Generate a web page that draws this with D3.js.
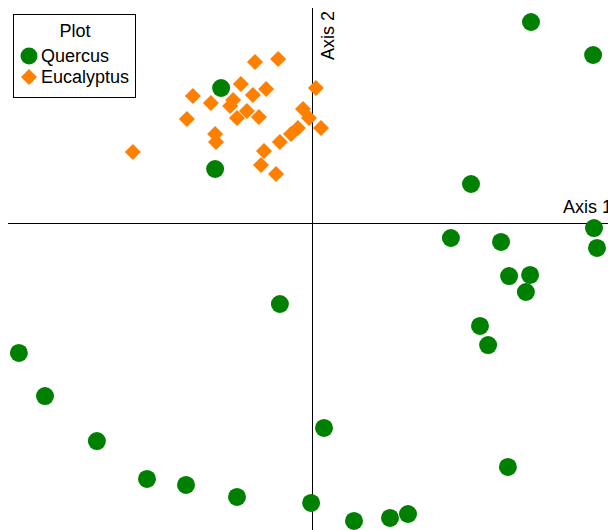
<!DOCTYPE html>
<html><head><meta charset="utf-8">
<script src="https://cdn.jsdelivr.net/npm/d3@7"></script>
<style>body{margin:0;background:#fff}svg{display:block}text{font-family:"Liberation Sans",Arial,sans-serif}</style>
</head><body>
<script>
const quercusX = [0.73,0.937,0.53,0.463,0.63,0.94,0.95,0.657,0.727,0.713,0.56,0.587,-0.107,-0.977,-0.89,-0.717,-0.55,-0.42,-0.25,-0.003,0.04,0.14,0.26,0.32,0.653,-0.303,-0.323];
const quercusY = [0.67,0.56,0.13,-0.05,-0.063,-0.017,-0.083,-0.177,-0.173,-0.23,-0.343,-0.407,-0.27,-0.433,-0.577,-0.727,-0.853,-0.873,-0.913,-0.933,-0.683,-0.993,-0.983,-0.97,-0.813,0.45,0.18];
const eucX = [-0.19,-0.113,-0.237,-0.153,-0.397,-0.337,-0.263,-0.197,-0.273,-0.217,-0.177,-0.25,-0.417,0.013,-0.03,-0.01,0.03,-0.047,-0.07,-0.107,-0.323,-0.32,-0.597,-0.16,-0.17,-0.12];
const eucY = [0.537,0.547,0.463,0.447,0.423,0.4,0.41,0.427,0.39,0.373,0.353,0.35,0.347,0.45,0.38,0.35,0.317,0.317,0.297,0.27,0.297,0.27,0.237,0.24,0.193,0.163];
const legendTitle = "Plot";
const groups = ["Quercus","Eucalyptus"];
const axisLabels = ["Axis 1","Axis 2"];

const W=608,H=530;
const svg=d3.select("body").append("svg").attr("width",W).attr("height",H);
const x=d3.scaleLinear().domain([-1,1]).range([12,612]);
const y=d3.scaleLinear().domain([-1,1]).range([523,-77]);
const green="#008000", orange="#FF7F00";

svg.append("line").attr("x1",8).attr("x2",W).attr("y1",y(0)+0.5).attr("y2",y(0)+0.5).attr("stroke","#000").attr("stroke-width",1);
svg.append("line").attr("x1",x(0)+0.5).attr("x2",x(0)+0.5).attr("y1",8).attr("y2",H).attr("stroke","#000").attr("stroke-width",1);
svg.append("text").attr("x",563).attr("y",213).attr("font-size",18).text(axisLabels[0]);
svg.append("text").attr("transform",`translate(${x(0)+22},60) rotate(-90)`).attr("font-size",18).text(axisLabels[1]);

const diamond=d3.symbol().type(d3.symbolSquare).size(128);
svg.append("g").selectAll("path").data(eucX.map((v,i)=>[v,eucY[i]])).join("path")
  .attr("d",diamond).attr("transform",d=>`translate(${x(d[0])},${y(d[1])}) rotate(45)`)
  .attr("fill",orange);
svg.append("g").selectAll("circle").data(quercusX.map((v,i)=>[v,quercusY[i]])).join("circle")
  .attr("cx",d=>x(d[0])).attr("cy",d=>y(d[1])).attr("r",9).attr("fill",green);

const lg=svg.append("g");
lg.append("rect").attr("x",13.5).attr("y",14.5).attr("width",122).attr("height",83).attr("fill","#fff").attr("stroke","#000").attr("stroke-width",1);
lg.append("text").attr("x",75).attr("y",37).attr("text-anchor","middle").attr("font-size",18).text(legendTitle);
lg.append("circle").attr("cx",29).attr("cy",56).attr("r",8.5).attr("fill",green);
lg.append("path").attr("d",diamond).attr("transform","translate(29,77) rotate(45)").attr("fill",orange);
lg.append("text").attr("x",41).attr("y",62).attr("font-size",18).text(groups[0]);
lg.append("text").attr("x",41).attr("y",83).attr("font-size",18).text(groups[1]);
</script>
</body></html>
